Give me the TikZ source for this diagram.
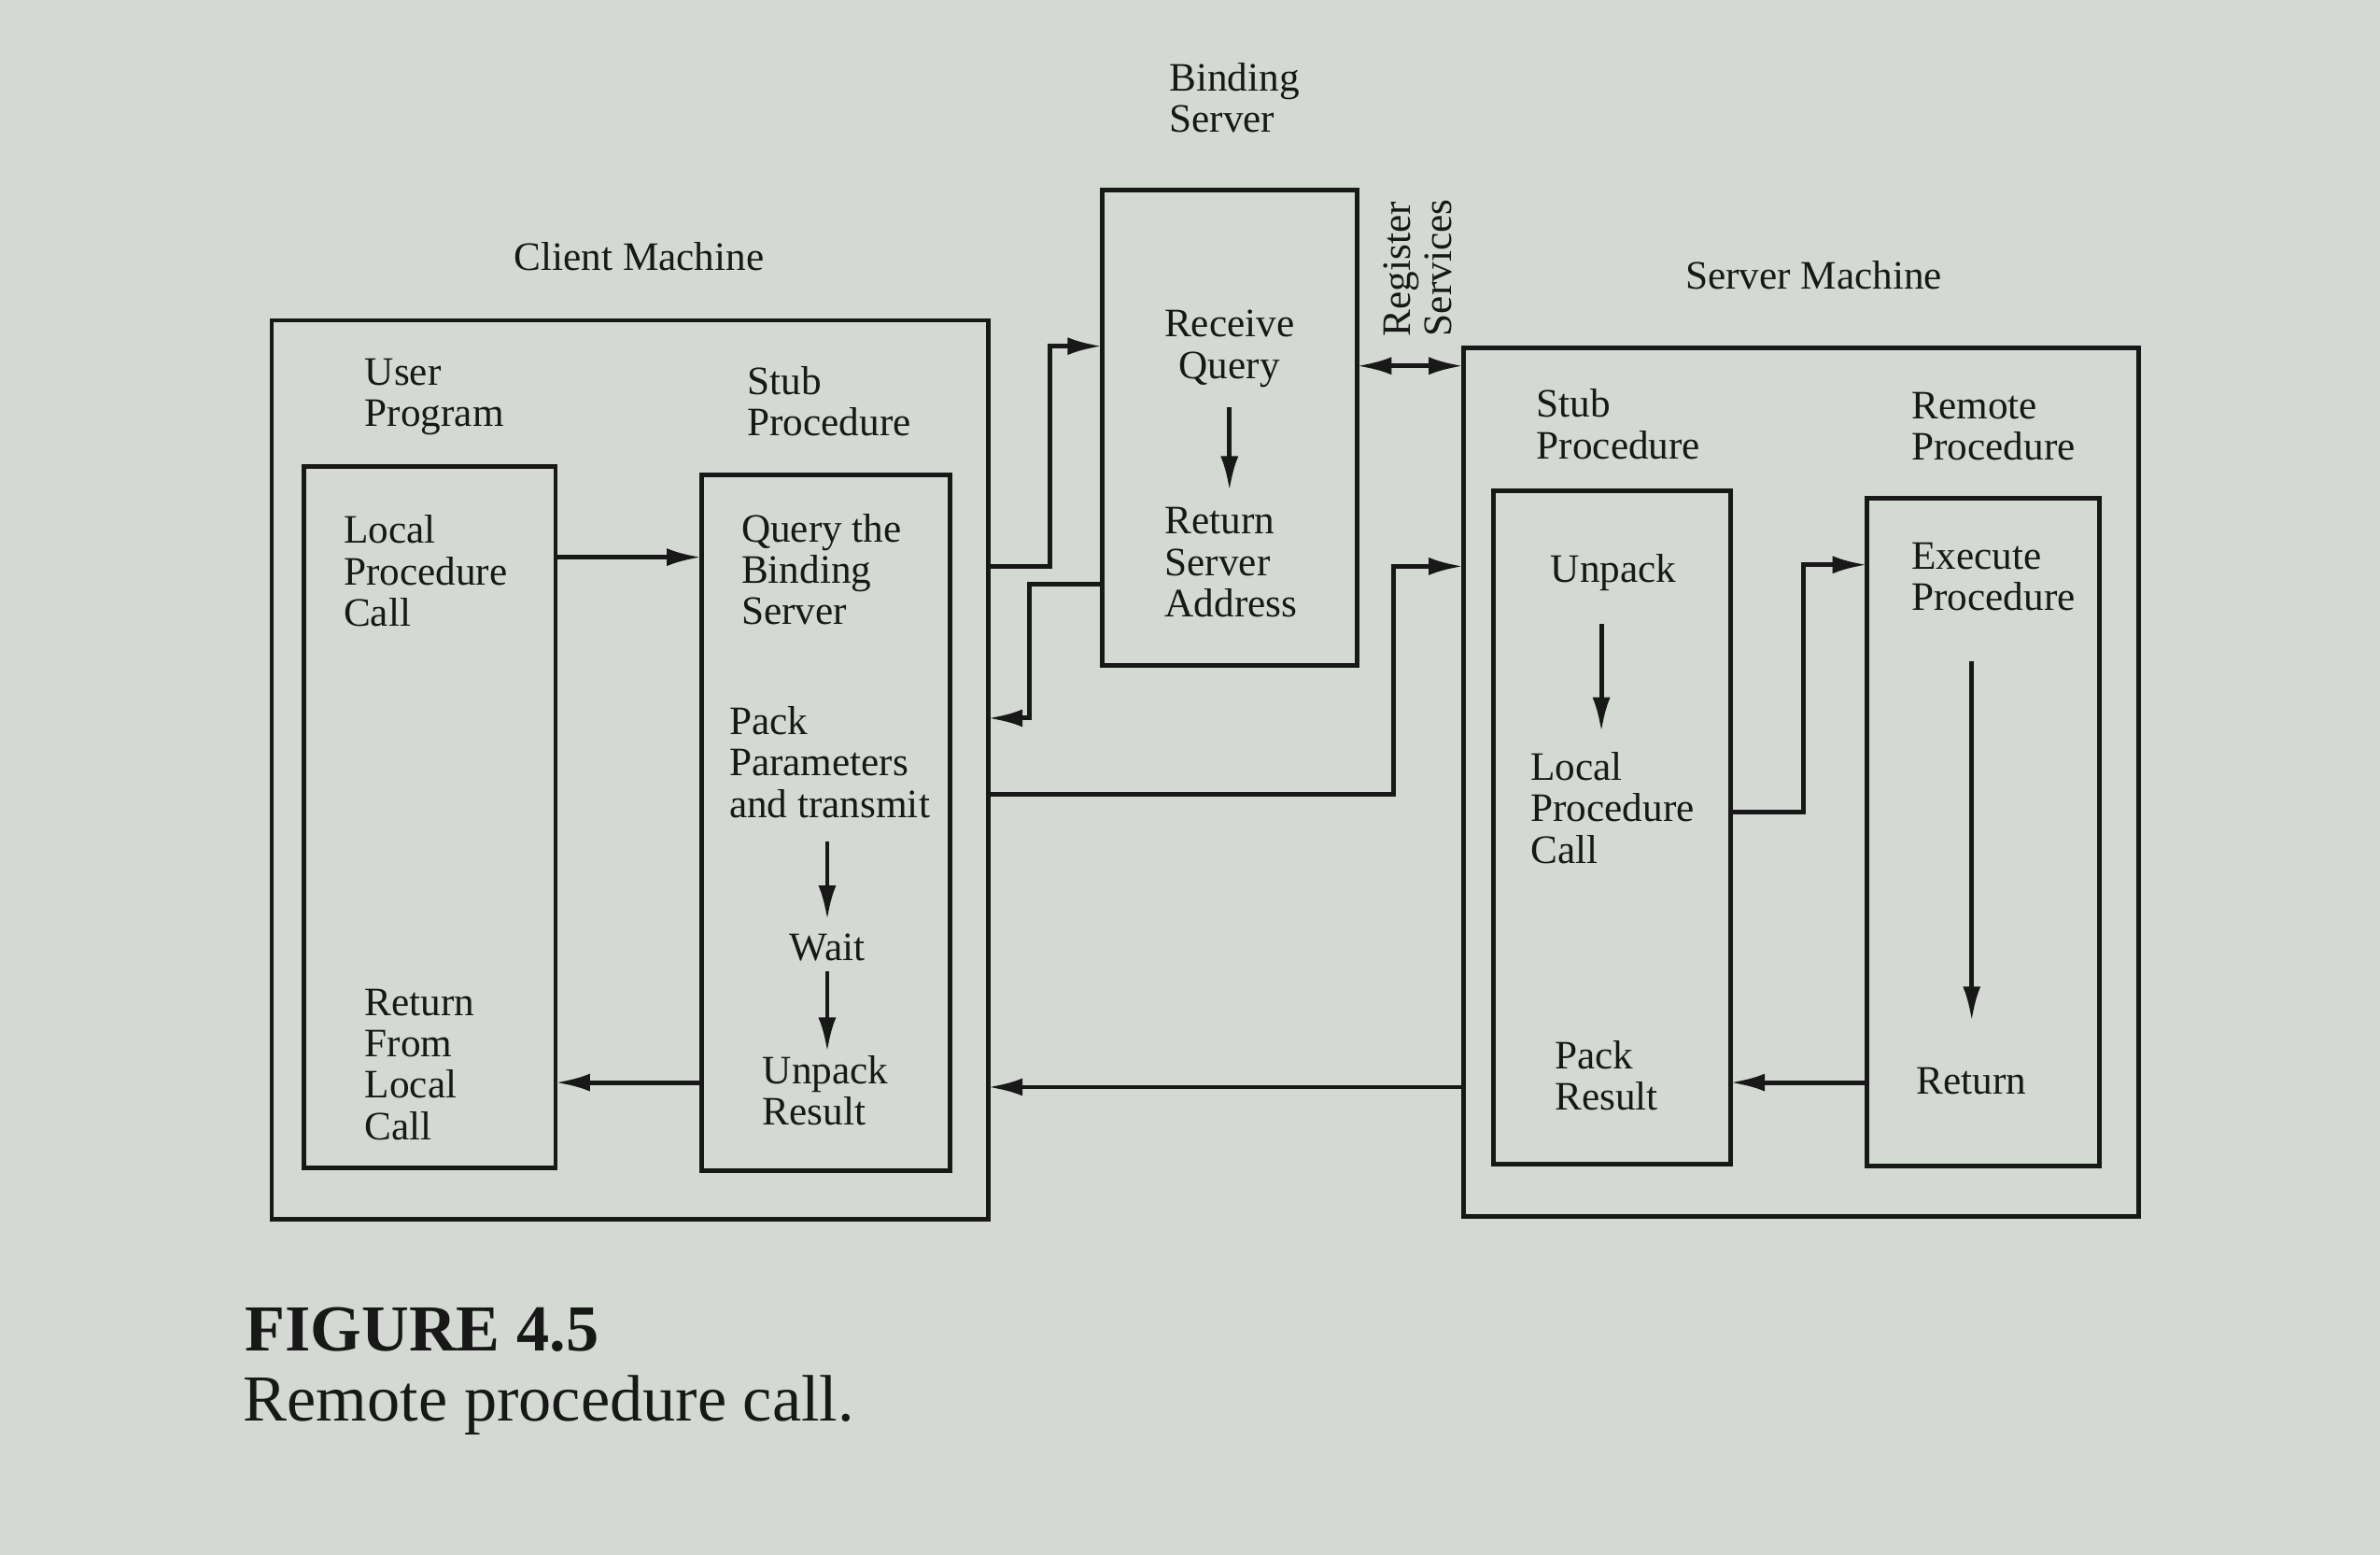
\documentclass[tikz,border=0pt]{standalone}
\usepackage{fontspec}
\setmainfont{Liberation Serif}
\usetikzlibrary{arrows.meta,fit}
\definecolor{paper}{RGB}{212,217,211}
\definecolor{ink}{RGB}{24,24,24}

\begin{document}
\begin{tikzpicture}[
    x=0.016256cm, y=-0.016256cm,
    box/.style={rectangle, draw=ink, line width=1.4pt, inner sep=0pt, outer sep=0pt},
    lbl/.style={text=ink, inner sep=0pt, align=left, font=\fontsize{12.3}{12.6}\selectfont},
    arrow/.style={-{Latex[length=10.5pt,width=5.4pt]}, draw=ink, line width=1.4pt},
    dblarrow/.style={{Latex[length=10.5pt,width=5.4pt]}-{Latex[length=10.5pt,width=5.4pt]}, draw=ink, line width=1.4pt}
]
    \fill[paper] (0,0) rectangle (1568,1024);
    \useasboundingbox (0,0) rectangle (1568,1024);

    % machines and procedures
    \node[box, fit={(179,211) (651,803)}] (client) {};
    \node[box, fit={(200,307) (366,769)}] (lpc) {};
    \node[box, fit={(462,313) (626,771)}] (cstub) {};
    \node[box, fit={(726,125) (894,438)}] (binder) {};
    \node[box, fit={(964,229) (1409,801)}] (server) {};
    \node[box, fit={(984,323) (1140,767)}] (sstub) {};
    \node[box, fit={(1230,328) (1383,768)}] (remote) {};

    % headings
    \node[lbl] (clientlbl) at (421,169) {Client Machine};
    \node[lbl] (servlbl) at (1195,181) {Server Machine};
    \node[lbl, anchor=north west] (bindlbl) at (770,41) {Binding\\Server};
    \node[lbl, anchor=north west] (userprog) at (240,236) {User\\Program};
    \node[lbl, anchor=north west] (cstublbl) at (492,241) {Stub\\Procedure};
    \node[lbl, anchor=north west] (sstublbl) at (1012,256) {Stub\\Procedure};
    \node[lbl, anchor=north west] (remlbl) at (1259,258) {Remote\\Procedure};
    \node[lbl, rotate=90, anchor=north west] (reg) at (911,222) {Register\\Services};

    % client side
    \node[lbl, anchor=north west] (lpccall) at (226,339) {Local\\Procedure\\Call};
    \node[lbl, anchor=north west] (lpcret) at (240,651) {Return\\From\\Local\\Call};
    \node[lbl, anchor=north west] (query) at (488,338) {Query the\\Binding\\Server};
    \node[lbl, anchor=north west] (pack) at (480,465) {Pack\\Parameters\\and transmit};
    \node[lbl] (wait) at (545,624) {Wait};
    \node[lbl, anchor=north west] (unpack) at (502,695) {Unpack\\Result};

    % binding server
    \node[lbl, align=center, anchor=north] (recv) at (810,204) {Receive\\Query};
    \node[lbl, anchor=north west] (retaddr) at (767,334) {Return\\Server\\Address};

    % server side
    \node[lbl] (sunpack) at (1063,377) {Unpack};
    \node[lbl, anchor=north west] (scall) at (1008,495) {Local\\Procedure\\Call};
    \node[lbl, anchor=north west] (spack) at (1024,685) {Pack\\Result};
    \node[lbl, anchor=north west] (exec) at (1259,357) {Execute\\Procedure};
    \node[lbl] (sret) at (1299,712) {Return};

    % caption
    \node[text=ink, inner sep=0pt, anchor=base west, font=\fontsize{20}{24}\selectfont\bfseries] (fig) at (161,890) {FIGURE 4.5};
    \node[text=ink, inner sep=0pt, anchor=base west, font=\fontsize{20}{24}\selectfont] (caption) at (160,936) {Remote procedure call.};

    % steps inside the boxes
    \draw[arrow, shorten <=6pt, shorten >=5pt] (recv.south) -- (recv.south |- retaddr.north);
    \draw[arrow, shorten <=7pt, shorten >=4pt] (wait.north |- pack.south) -- (wait.north);
    \draw[arrow, shorten <=3pt, shorten >=1pt] (wait.south) -- (wait.south |- unpack.north);
    \draw[arrow, shorten <=10pt, shorten >=6pt] ([xshift=-0.13cm]sunpack.south) -- ([xshift=-0.13cm]sunpack.south |- scall.north);
    \draw[arrow, shorten <=15pt, shorten >=14pt] (sret.north |- exec.south) -- (sret.north);

    % calls and returns
    \draw[arrow] (lpc.east |- 0,367) -- (cstub.west |- 0,367);
    \draw[arrow] (client.east |- 0,373) -- (692,373) |- (binder.west |- 0,228);
    \draw[arrow] (binder.west |- 0,385) -| (678,473) -- (client.east |- 0,473);
    \draw[dblarrow] (binder.east |- 0,241) -- (server.west |- 0,241);
    \draw[arrow] (client.east |- 0,523) -| (918,373) -- (server.west |- 0,373);
    \draw[arrow] (server.west |- 0,716) -- (client.east |- 0,716);
    \draw[arrow] (cstub.west |- 0,713) -- (lpc.east |- 0,713);
    \draw[arrow] (sstub.east |- 0,535) -| (1188,372) -- (remote.west |- 0,372);
    \draw[arrow] (remote.west |- 0,713) -- (sstub.east |- 0,713);
\end{tikzpicture}
\end{document}
